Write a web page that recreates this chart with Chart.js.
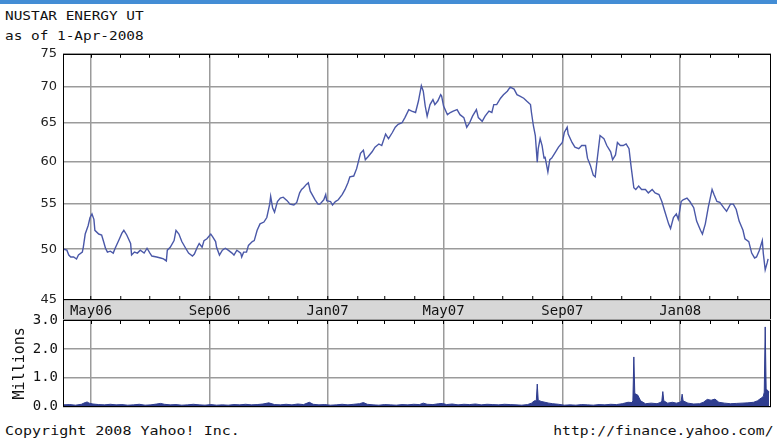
<!DOCTYPE html>
<html>
<head>
<meta charset="utf-8">
<script src="https://cdn.jsdelivr.net/npm/chart.js@4.4.0/dist/chart.umd.min.js"></script>
<style>
body { margin: 0; background: #fff; width: 777px; height: 440px; overflow: hidden; position: relative; }
#topbar { position: absolute; left: 0; top: 0; width: 777px; height: 4px; background: #438dd5; }
.txt { position: absolute; font-family: 'DejaVu Sans Mono', monospace; color: #111; white-space: nowrap; line-height: 14px; }
.l { left: 5px; transform: scaleX(1.2); transform-origin: 0 0; }
.r { right: 4px; transform: scaleX(1.2); transform-origin: 100% 0; }
canvas { position: absolute; left: 0; }
#priceChart { top: 40px; }
#volChart { top: 305px; }
</style>
</head>
<body>
<div id="topbar"></div>
<div class="txt l" style="top:9px; font-size:12px;">NUSTAR ENERGY UT</div>
<div class="txt l" style="top:29px; font-size:12px;">as of 1-Apr-2008</div>
<canvas id="priceChart" width="777" height="280"></canvas>
<canvas id="volChart" width="777" height="115"></canvas>
<div class="txt l" style="top:424px; font-size:12.5px;">Copyright 2008 Yahoo! Inc.</div>
<div class="txt r" style="top:424px; font-size:12.2px;">http://finance.yahoo.com/</div>
<script>
// data (days counted from 1-Apr-2006)
const monthDays = [30, 61, 91, 122, 153, 183, 214, 244, 275, 306, 334, 365, 395, 426, 456, 487, 518, 548, 579, 609, 640, 671, 700];
const monthLabels = ['May06', '', '', '', 'Sep06', '', '', '', 'Jan07', '', '', '', 'May07', '', '', '', 'Sep07', '', '', '', 'Jan08', '', ''];
const priceTicks = [45, 50, 55, 60, 65, 70, 75];
const volTicks = [0, 1, 2, 3];

const priceDays = [2, 5, 7, 9, 12, 15, 17, 21, 22, 24, 27, 29, 31, 33, 34, 38, 41, 43, 45, 47, 50, 53, 55, 59, 62, 64, 67, 71, 72, 75, 78, 81, 85, 88, 91, 93, 98, 102, 105, 108, 109, 112, 116, 118, 121, 124, 128, 131, 135, 137, 140, 142, 145, 147, 150, 154, 156, 159, 160, 163, 166, 169, 172, 176, 178, 181, 185, 186, 188, 191, 193, 197, 199, 202, 205, 209, 212, 215, 216, 218, 220, 223, 226, 229, 233, 236, 240, 243, 246, 248, 250, 253, 255, 257, 260, 262, 265, 267, 271, 273, 274, 278, 280, 283, 286, 290, 293, 296, 298, 302, 305, 309, 312, 314, 317, 321, 324, 328, 331, 335, 338, 342, 345, 348, 352, 355, 359, 362, 366, 369, 372, 374, 376, 378, 381, 384, 386, 389, 392, 393, 395, 399, 402, 405, 409, 412, 416, 419, 422, 425, 429, 431, 435, 438, 442, 445, 447, 450, 454, 457, 461, 464, 468, 471, 474, 478, 481, 485, 486, 488, 490, 492, 493, 495, 497, 499, 500, 503, 505, 507, 511, 514, 518, 520, 523, 524, 528, 531, 535, 538, 542, 544, 547, 550, 552, 554, 557, 561, 564, 568, 570, 573, 575, 578, 581, 584, 587, 589, 592, 594, 597, 600, 604, 607, 611, 614, 618, 621, 624, 628, 630, 633, 636, 638, 641, 643, 647, 650, 654, 657, 661, 663, 666, 669, 673, 675, 678, 681, 685, 688, 692, 695, 698, 701, 705, 707, 711, 714, 717, 719, 722, 725, 726, 728, 730, 731];
const prices = [50.0, 49.9, 49.4, 49.2, 49.2, 49.0, 49.4, 49.7, 50.2, 51.6, 52.5, 53.4, 53.8, 53.2, 52.0, 51.6, 51.5, 50.8, 50.1, 49.7, 49.8, 49.6, 50.1, 51.0, 51.7, 52.0, 51.5, 50.6, 49.4, 49.7, 49.6, 49.9, 49.6, 50.1, 49.6, 49.3, 49.2, 49.1, 49.0, 48.8, 49.9, 50.2, 50.9, 52.0, 51.6, 50.8, 50.1, 49.6, 49.3, 49.5, 50.2, 50.6, 50.2, 50.9, 51.1, 51.6, 51.3, 50.8, 50.2, 49.4, 49.9, 50.1, 49.9, 49.6, 49.4, 49.9, 49.6, 49.2, 49.7, 49.7, 50.4, 50.8, 50.9, 52.0, 52.7, 52.9, 53.4, 54.9, 55.8, 54.5, 54.0, 55.2, 55.6, 55.7, 55.3, 54.9, 54.8, 55.1, 56.2, 56.6, 56.8, 57.2, 57.4, 56.4, 55.8, 55.4, 54.9, 54.9, 55.4, 56.0, 55.3, 55.2, 54.8, 55.2, 55.4, 56.0, 56.6, 57.4, 58.1, 58.2, 59.1, 61.0, 61.4, 60.2, 60.6, 61.2, 61.8, 62.2, 62.0, 63.5, 62.9, 63.7, 64.4, 64.8, 65.0, 65.7, 66.8, 66.6, 66.4, 68.0, 70.2, 69.4, 67.3, 65.9, 67.5, 68.2, 67.5, 68.0, 68.9, 68.7, 67.3, 66.1, 66.4, 66.6, 66.8, 66.1, 65.7, 64.4, 65.0, 65.9, 66.8, 65.7, 65.2, 65.9, 66.6, 66.4, 67.5, 67.5, 68.4, 68.9, 69.4, 70.0, 69.7, 68.9, 68.7, 68.4, 68.0, 67.5, 66.4, 64.6, 63.3, 59.9, 61.6, 62.9, 62.0, 60.4, 60.6, 58.7, 60.2, 60.4, 61.2, 61.8, 62.4, 63.7, 64.4, 63.5, 62.4, 61.8, 61.6, 62.0, 62.0, 60.4, 59.5, 58.3, 58.1, 60.2, 63.3, 62.9, 62.0, 61.2, 60.2, 60.8, 62.4, 62.0, 62.0, 62.2, 61.6, 59.5, 56.8, 56.6, 57.0, 56.6, 56.6, 56.2, 56.6, 56.2, 56.0, 55.2, 54.1, 52.7, 52.2, 53.4, 53.8, 53.2, 55.2, 55.4, 55.6, 55.2, 54.5, 53.0, 52.0, 51.6, 52.7, 54.5, 56.6, 56.0, 55.2, 55.1, 54.5, 54.1, 54.9, 54.9, 54.3, 53.0, 52.0, 51.1, 50.8, 49.6, 49.1, 49.2, 49.9, 50.9, 49.6, 47.9, 48.6, 49.0];

// volume in millions
const volDays = [2, 8, 14, 20, 24, 26, 28, 32, 38, 44, 50, 56, 62, 68, 74, 80, 86, 92, 98, 102, 106, 112, 118, 124, 130, 136, 142, 148, 154, 160, 166, 172, 178, 184, 190, 196, 202, 208, 214, 220, 226, 232, 238, 244, 250, 256, 260, 266, 272, 278, 284, 290, 296, 302, 308, 312, 316, 322, 328, 334, 340, 346, 352, 358, 364, 370, 374, 378, 384, 390, 394, 398, 404, 410, 416, 422, 428, 434, 440, 446, 452, 458, 464, 470, 476, 482, 486, 489, 491, 492, 493, 496, 500, 504, 508, 514, 520, 526, 532, 538, 544, 550, 556, 562, 568, 574, 580, 586, 590, 591, 592, 593, 596, 599, 604, 610, 616, 620, 621, 622, 623, 627, 632, 636, 640, 641, 642, 643, 648, 654, 660, 664, 668, 672, 676, 680, 686, 692, 698, 704, 710, 716, 720, 724, 726, 727, 728, 729, 731, 732];
const volumes = [0.06, 0.07, 0.05, 0.08, 0.14, 0.16, 0.12, 0.09, 0.07, 0.06, 0.08, 0.06, 0.07, 0.05, 0.06, 0.08, 0.05, 0.06, 0.09, 0.11, 0.08, 0.06, 0.07, 0.05, 0.06, 0.08, 0.06, 0.05, 0.07, 0.05, 0.06, 0.05, 0.07, 0.06, 0.08, 0.06, 0.07, 0.09, 0.13, 0.07, 0.06, 0.08, 0.06, 0.09, 0.07, 0.15, 0.08, 0.06, 0.07, 0.05, 0.06, 0.08, 0.06, 0.08, 0.1, 0.14, 0.08, 0.06, 0.05, 0.07, 0.06, 0.05, 0.07, 0.06, 0.08, 0.07, 0.12, 0.08, 0.07, 0.1, 0.11, 0.07, 0.09, 0.06, 0.08, 0.07, 0.09, 0.06, 0.08, 0.07, 0.06, 0.08, 0.07, 0.06, 0.05, 0.07, 0.12, 0.2, 0.2, 0.78, 0.22, 0.18, 0.15, 0.12, 0.1, 0.08, 0.05, 0.06, 0.05, 0.07, 0.06, 0.05, 0.07, 0.06, 0.08, 0.07, 0.1, 0.15, 0.14, 0.2, 1.72, 0.45, 0.4, 0.2, 0.1, 0.12, 0.1, 0.15, 0.2, 0.52, 0.2, 0.12, 0.15, 0.12, 0.15, 0.2, 0.43, 0.2, 0.12, 0.09, 0.1, 0.15, 0.25, 0.22, 0.26, 0.15, 0.12, 0.1, 0.11, 0.12, 0.13, 0.15, 0.2, 0.3, 0.35, 0.5, 2.76, 0.6, 0.55, 0.5];

const dayMin = 1;
const dayMax = 734;

const gridGray = '#9b9b9b';
const mono = 'DejaVu Sans Mono';

// frame round the plot, and the grey date band under the price plot
const framePlugin = {
    id: 'frame',
    beforeDraw(chart, args, opts) {
        const a = chart.chartArea;
        const ctx = chart.ctx;
        if (opts.band) {
            ctx.save();
            ctx.fillStyle = '#d7d7d7';
            ctx.fillRect(a.left, a.bottom, a.right - a.left, opts.band);
            ctx.restore();
        }
    },
    afterDraw(chart, args, opts) {
        const a = chart.chartArea;
        const ctx = chart.ctx;
        const l = Math.round(a.left) + 0.5, t = Math.round(a.top) + 0.5;
        const w = Math.round(a.right - a.left) - 1, h = Math.round(a.bottom - a.top) - 1;
        ctx.save();
        ctx.strokeStyle = '#000';
        ctx.lineWidth = 1;
        ctx.strokeRect(l, t, w, h);
        if (opts.band) ctx.strokeRect(l, t + h, w, opts.band);
        ctx.restore();
    }
};

const monthTicks = (scale) => {
    scale.ticks = monthDays.map(v => ({ value: v }));
};
const labelOf = (v) => monthLabels[monthDays.indexOf(v)] || '';
const monthGrid = (c) => (c.tick && labelOf(c.tick.value) ? gridGray : 'rgba(0,0,0,0)');

const topTickAxis = {
    type: 'linear',
    position: 'top',
    min: dayMin,
    max: dayMax,
    afterBuildTicks: monthTicks,
    afterFit: (s) => { s.height = 0; },
    ticks: { display: false },
    border: { display: false },
    grid: { drawOnChartArea: false, drawTicks: true, tickLength: -4, tickColor: '#000', tickWidth: 1 }
};

//price chart
const priceChartMaster = () => {
    var ctx = document.getElementById('priceChart').getContext('2d');
    var chart = new Chart(ctx, {
        type: 'line',
        data: {
            datasets: [{
                label: 'NS',
                data: priceDays.map((d, i) => ({ x: d, y: prices[i] })),
                borderColor: '#4a58a8',
                borderWidth: 1.4,
                pointRadius: 0,
                tension: 0
            }]
        },
        options: {
            responsive: false,
            animation: false,
            layout: { padding: { left: 0, right: 6, top: 10, bottom: 0 } },
            plugins: {
                legend: { display: false },
                tooltip: { enabled: false },
                frame: { band: 20 }
            },
            scales: {
                x: {
                    type: 'linear',
                    position: 'bottom',
                    min: dayMin,
                    max: dayMax,
                    afterBuildTicks: monthTicks,
                    afterFit: (s) => { s.height = 20; },
                    border: { display: false },
                    grid: { color: monthGrid, lineWidth: 1.5, drawTicks: true, tickLength: -4, tickColor: '#000', tickWidth: 1 },
                    ticks: {
                        autoSkip: false,
                        maxRotation: 0,
                        padding: 7,
                        color: '#111',
                        font: { family: mono, size: 14 },
                        callback: (v) => labelOf(v)
                    }
                },
                xTop: topTickAxis,
                y: {
                    type: 'logarithmic',
                    min: 45,
                    max: 75,
                    afterBuildTicks: (s) => { s.ticks = priceTicks.map(v => ({ value: v })); },
                    afterFit: (s) => { s.width = 63; },
                    border: { display: false },
                    grid: { color: gridGray, lineWidth: 1.5, drawTicks: false },
                    ticks: {
                        padding: 6,
                        color: '#222',
                        font: { family: 'DejaVu Sans', size: 13 },
                        callback: (v) => String(v)
                    }
                }
            }
        },
        plugins: [framePlugin]
    });
};
priceChartMaster()

//volume chart
const volChartMaster = () => {
    var ctx = document.getElementById('volChart').getContext('2d');
    var chart = new Chart(ctx, {
        type: 'line',
        data: {
            datasets: [{
                label: 'Volume',
                data: volDays.map((d, i) => ({ x: d, y: volumes[i] })),
                borderColor: '#2f3d8f',
                backgroundColor: '#2f3d8f',
                borderWidth: 1,
                fill: 'origin',
                pointRadius: 0,
                tension: 0
            }]
        },
        options: {
            responsive: false,
            animation: false,
            layout: { padding: { left: 0, right: 6, top: 15, bottom: 3 } },
            plugins: {
                legend: { display: false },
                tooltip: { enabled: false },
                frame: { band: 0 }
            },
            scales: {
                x: {
                    type: 'linear',
                    position: 'bottom',
                    min: dayMin,
                    max: dayMax,
                    afterBuildTicks: monthTicks,
                    afterFit: (s) => { s.height = 0; },
                    border: { display: false },
                    grid: { color: monthGrid, lineWidth: 1.5, drawTicks: false },
                    ticks: { display: false }
                },
                xTop: topTickAxis,
                y: {
                    type: 'linear',
                    min: 0,
                    max: 3,
                    afterBuildTicks: (s) => { s.ticks = volTicks.map(v => ({ value: v })); },
                    afterFit: (s) => { s.width = 63; },
                    border: { display: false },
                    grid: { color: gridGray, lineWidth: 1.5, drawTicks: false },
                    title: {
                        display: true,
                        text: 'Millions',
                        color: '#111',
                        font: { family: mono, size: 15 },
                        padding: { top: 11, bottom: 0 }
                    },
                    ticks: {
                        padding: 5,
                        color: '#111',
                        font: { family: mono, size: 14 },
                        callback: (v) => v.toFixed(1)
                    }
                }
            }
        },
        plugins: [framePlugin]
    });
};
volChartMaster()
</script>
</body>
</html>
